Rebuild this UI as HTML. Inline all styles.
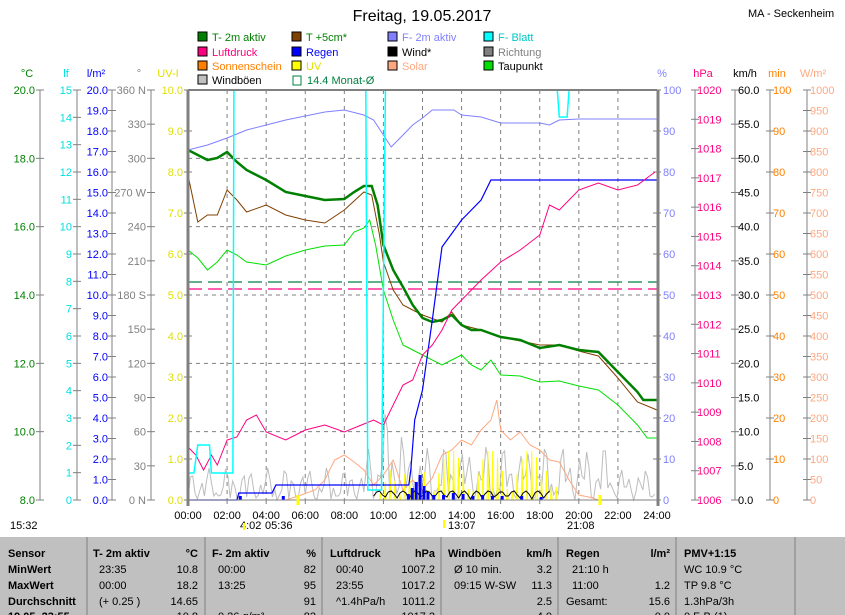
<!DOCTYPE html>
<html><head><meta charset="utf-8"><style>
body{margin:0;background:#fff;width:845px;height:615px;overflow:hidden;font-family:"Liberation Sans",sans-serif}
svg{position:absolute;left:0;top:0}
text{font-family:"Liberation Sans",sans-serif}
</style></head><body>
<svg id="s" width="845" height="615" xmlns="http://www.w3.org/2000/svg"></svg>
<script>
const S=document.getElementById('s');let h='';
const X0=188,X1=657,YT=90,YB=500,HX=(X1-X0)/24;
const hx=t=>X0+t*HX;
function T(x,y,s,c,a,fs,fw){h+=`<text x="${x}" y="${y}" fill="${c||'#000'}" text-anchor="${a||'start'}" style="font-size:${fs||11}px;${fw?'font-weight:bold':''}">${s}</text>`;}
function L(x1,y1,x2,y2,c,w,d){h+=`<line x1="${x1}" y1="${y1}" x2="${x2}" y2="${y2}" stroke="${c}" stroke-width="${w||1}" ${d?`stroke-dasharray="${d}"`:''}/>`;}
function P(pts,c,w){h+=`<polyline fill="none" stroke="${c}" stroke-width="${w||1}" points="${pts.map(p=>hx(p[0]).toFixed(1)+','+p[1]).join(' ')}"/>`;}
T(422,21,'Freitag, 19.05.2017','#000','middle',16);
T(748,17,'MA - Seckenheim','#000','start',11);
const lg=[[198,40,'#008000','T- 2m aktiv','#008000'],[292,40,'#804000','T +5cm*','#008000'],[388,40,'#8080ff','F- 2m aktiv','#8080ff'],[484,40,'#00ffff','F- Blatt','#00c8c8'],
[198,55,'#ff0080','Luftdruck','#ff0080'],[292,55,'#0000ff','Regen','#0000ff'],[388,55,'#000','Wind*','#000'],[484,55,'#808080','Richtung','#808080'],
[198,69,'#ff8000','Sonnenschein','#ff8000'],[292,69,'#ffff00','UV','#e0e000'],[388,69,'#ffa880','Solar','#ffa880'],[484,69,'#00e000','Taupunkt','#000'],
[198,83,'#c0c0c0','Windböen','#000']];
lg.forEach(l=>{h+=`<rect x="${l[0]}" y="${l[1]-8}" width="9" height="9" fill="${l[2]}" stroke="#000"/>`;T(l[0]+14,l[1]+1,l[3],l[4]);});
h+=`<rect x="293" y="76" width="8" height="9" fill="none" stroke="#008040"/>`;T(307,84,'14.4 Monat-Ø','#008040');
[[27,'°C','#008000'],[66,'lf','#00e0e0'],[96,'l/m²','#0000ff'],[139,'°','#808080'],[168,'UV-I','#e0e000'],[662,'%','#8080ff'],[703,'hPa','#ff0080'],[745,'km/h','#000'],[777,'min','#ff8000'],[813,'W/m²','#ffa880']].forEach(a=>T(a[0],77,a[1],a[2],'middle'));
h+=`<rect x="${X0}" y="${YT}" width="${X1-X0}" height="${YB-YT}" fill="#fff"/>`;
for(let i=1;i<12;i++)L(hx(2*i),YT,hx(2*i),YB,'#808080',1,'4,4');
for(let i=1;i<6;i++){let y=YT+i*68.33;L(X0,y,X1,y,'#808080',1,'4,4');}
L(X0,282,X1,282,'#008040',1.2,'14,6');L(X0,289,X1,289,'#ff0080',1.2,'14,6');
function axis(xv,lo,hi,step,lab,col,labx){L(xv,YT,xv,YB,'#808080');
 for(let v=lo;v<=hi+1e-9;v+=step){let y=YB-(v-lo)/(hi-lo)*(YB-YT);L(xv-4,y,xv+4,y,'#808080');
 let s=lab(v);if(s!==null)T(labx,y+4,s,col,'end');}}
axis(40,8,20,2,v=>v.toFixed(1),'#008000',35);
axis(77,0,15,1,v=>String(v),'#00e0e0',72);
axis(112,0,20,1,v=>v.toFixed(1),'#0000ff',108);
const dn={360:'360 N',270:'270 W',180:'180 S',0:'0 N'};
axis(151,0,360,30,v=>dn[v]||String(v),'#808080',146);
axis(X0,0,10,1,v=>v.toFixed(1),'#e0e000',183);
function raxis(xv,lo,hi,step,lab,col,labx,skipLine){if(!skipLine)L(xv,YT,xv,YB,'#808080');
 for(let v=lo;v<=hi+1e-9;v+=step){let y=YB-(v-lo)/(hi-lo)*(YB-YT);L(xv-4,y,xv+4,y,'#808080');
 T(labx,y+4,lab(v),col,'start');}}
raxis(X1,0,100,10,v=>String(v),'#8080ff',663,true);
raxis(695,1006,1020,1,v=>String(v),'#ff0080',697);
raxis(735,0,60,5,v=>v.toFixed(1),'#000',738);
raxis(770,0,100,10,v=>String(v),'#ff8000',773);
raxis(807,0,1000,50,v=>String(v),'#ffa880',810);
let g=[];for(let t=0;t<=24;t+=0.12){let b=(t>9&&t<22)?1:0.5;let v=500-Math.abs(Math.sin(t*7.3)*Math.cos(t*3.1))*(t>9.5&&t<11?90:45*b+10);g.push([t,Math.round(v)]);}P(g,'#bdbdbd',1);
let so=[[0,500],[5,500],[5.5,497],[6.5,490],[7,480],[7.5,460],[8,455],[8.5,462],[9,470],[9.5,485],[10,475],[10.5,460],[11,490],[11.5,480],[12,490],[12.5,478],[13,455],[13.5,450],[14,440],[14.5,445],[15,430],[15.5,420],[15.8,400],[16,430],[16.5,440],[17,432],[17.5,445],[18,450],[18.5,460],[19,462],[19.5,480],[20,495],[20.5,497],[21,500],[24,500]];P(so,'#ffa880',1);
let uv=[];for(let t=9.8;t<=19;t+=0.25){let v=(t>12&&t<18)?500-Math.abs(Math.sin(t*11))*50:500-Math.abs(Math.sin(t*9))*30;uv.push([t,500],[t+0.04,Math.round(v)],[t+0.08,500]);}P(uv,'#ffff00',1);
let wd=[];for(let t=9.5;t<=18.5;t+=0.15){wd.push([t,Math.round(499-Math.abs(Math.sin(t*5))*8)]);}P(wd,'#000',1);
[[2.6,4],[4.8,4],[11.2,6],[11.4,12],[11.6,18],[11.8,25],[12,14],[12.2,8],[12.5,5],[13,5],[13.5,7],[14,6],[14.5,4],[15,5],[15.5,4],[16,4],[17,4],[18,3]].forEach(r=>h+=`<rect x="${hx(r[0])}" y="${500-r[1]}" width="3" height="${r[1]}" fill="#0000ff"/>`);
P([[0,250],[0.5,258],[1,270],[1.5,262],[2,250],[2.5,255],[3,262],[4,265],[5,256],[6,250],[7,246],[8,245],[8.5,232],[9,228],[9.3,220],[9.6,245],[10,290],[10.5,320],[11,345],[12,355],[13,365],[13.5,360],[14,355],[14.5,365],[15,370],[15.5,360],[16,375],[17,376],[18,382],[19,381],[20,386],[21,390],[22,405],[23,425],[23.5,438],[24,438]],'#00e000',1);
P([[0,175],[0.5,222],[1,215],[1.5,215],[2,190],[2.5,200],[3,212],[4,205],[5,215],[6,220],[7,223],[8,210],[9,192],[9.4,195],[9.8,235],[10,262],[10.5,290],[11,305],[11.5,310],[12,315],[13,322],[13.5,312],[14,325],[15,330],[16,337],[17,341],[18,345],[19,345],[20,351],[21,356],[22,378],[23,402],[24,410]],'#804000',1);
P([[0,150],[0.5,155],[1,160],[1.5,158],[2,152],[2.5,162],[3,170],[3.5,175],[4,180],[5,192],[6,196],[7,200],[8,199],[8.5,192],[9,186],[9.4,186],[9.7,205],[10,245],[10.5,270],[11,287],[11.5,305],[12,318],[12.5,322],[13,320],[13.5,315],[14,325],[14.5,330],[15,330],[16,337],[17,340],[18,348],[19,345],[20,350],[21,352],[22,372],[23,392],[23.3,400],[24,400]],'#008000',2.5);
P([[0,150],[1,145],[2,138],[3,130],[4,125],[5,120],[6,116],[7,112],[8,110],[9,115],[9.5,120],[10,135],[10.4,147],[11,135],[11.5,125],[12,118],[12.5,110],[13.6,110],[14,115],[15,117],[16,123],[18,123],[18.5,125],[19,120],[20,119],[24,119]],'#8080ff',1);
P([[0,500],[2.5,500],[2.6,493],[4.3,493],[4.5,485],[11.3,485],[11.4,470],[11.6,420],[12,390],[12.5,320],[13,247],[14,220],[15,200],[15.5,180],[24,180]],'#0000ff',1.2);
P([[0,447],[0.4,455],[0.8,470],[1.2,455],[1.5,465],[2,440],[2.5,437],[3,420],[3.5,415],[4,432],[5,440],[6,430],[7,425],[8,432],[9,424],[9.5,420],[10,425],[11,385],[11.5,380],[12,355],[12.5,345],[13,330],[13.5,310],[14,300],[14.5,290],[15,280],[16,262],[17,250],[18,235],[18.5,205],[19,210],[20,190],[21,183],[22,190],[23,185],[23.9,172]],'#ff0080',1);
P([[0,473],[0.3,473],[0.5,445],[1.1,445],[1.2,473],[2.3,473],[2.35,90],[9.1,90],[9.2,490],[9.9,490],[10.1,90],[18.9,90],[19,117],[19.4,117],[19.5,90],[24,90]],'#00ffff',1.5);
L(X0,YT,X1,YT,'#808080',2);L(X0,YT,X0,YB+6,'#808080',3);L(X1+1,YT,X1+1,YB+6,'#808080',3);L(X0,YB,X1,YB,'#808080',1);
for(let i=0;i<=12;i++){T(hx(2*i),519,String(2*i).padStart(2,'0')+':00','#000','middle');L(hx(2*i),YB,hx(2*i),YB+4,'#808080');}
T(10,529,'15:32','#000');T(240,529,'4:02','#000');T(265,529,'05:36','#000');T(448,529,'13:07','#000');T(567,529,'21:08','#000');
L(298,495,298,505,'#ffff00',3);L(600,495,600,505,'#ffff00',3);L(244,523,244,530,'#ffff00',2);L(444,520,444,528,'#ffff00',2);
h+=`<rect x="0" y="537" width="845" height="78" fill="#c0c0c0"/>`;
[87,205,322,441,558,676,795].forEach(x=>L(x,537,x,615,'#808080'));
const ry=[557,573,589,605,620];
['Sensor','MinWert','MaxWert','Durchschnitt','19.05. 23:55'].forEach((s,i)=>T(8,ry[i],s,'#000','start',11,true));
const cells=[[93,'T- 2m aktiv',198,'°C',[['23:35','10.8'],['00:00','18.2'],['(+ 0.25 )','14.65'],['','10.8']]],
[212,'F- 2m aktiv',316,'%',[['00:00','82'],['13:25','95'],['','91'],['0.26 g/m³','82']]],
[330,'Luftdruck',435,'hPa',[['00:40','1007.2'],['23:55','1017.2'],['^1.4hPa/h','1011.2'],['','1017.2']]],
[448,'Windböen',552,'km/h',[['Ø 10 min.','3.2'],['09:15   W-SW','11.3'],['','2.5'],['','4.0']]],
[566,'Regen',670,'l/m²',[['21:10 h',''],['11:00','1.2'],['Gesamt:','15.6'],['','0.0']]]];
cells.forEach(c=>{T(c[0],ry[0],c[1],'#000','start',11,true);T(c[2],ry[0],c[3],'#000','end',11,true);
 c[4].forEach((r,i)=>{T(c[0]+(i==2&&c[0]>440?0:6),ry[i+1],r[0]);T(c[2],ry[i+1],r[1],'#000','end');});});
T(684,ry[0],'PMV+1:15','#000','start',11,true);
['WC 10.9 °C','TP 9.8 °C','1.3hPa/3h','0 F-B (1)'].forEach((s,i)=>T(684,ry[i+1],s));
S.innerHTML=h;
</script>
</body></html>
